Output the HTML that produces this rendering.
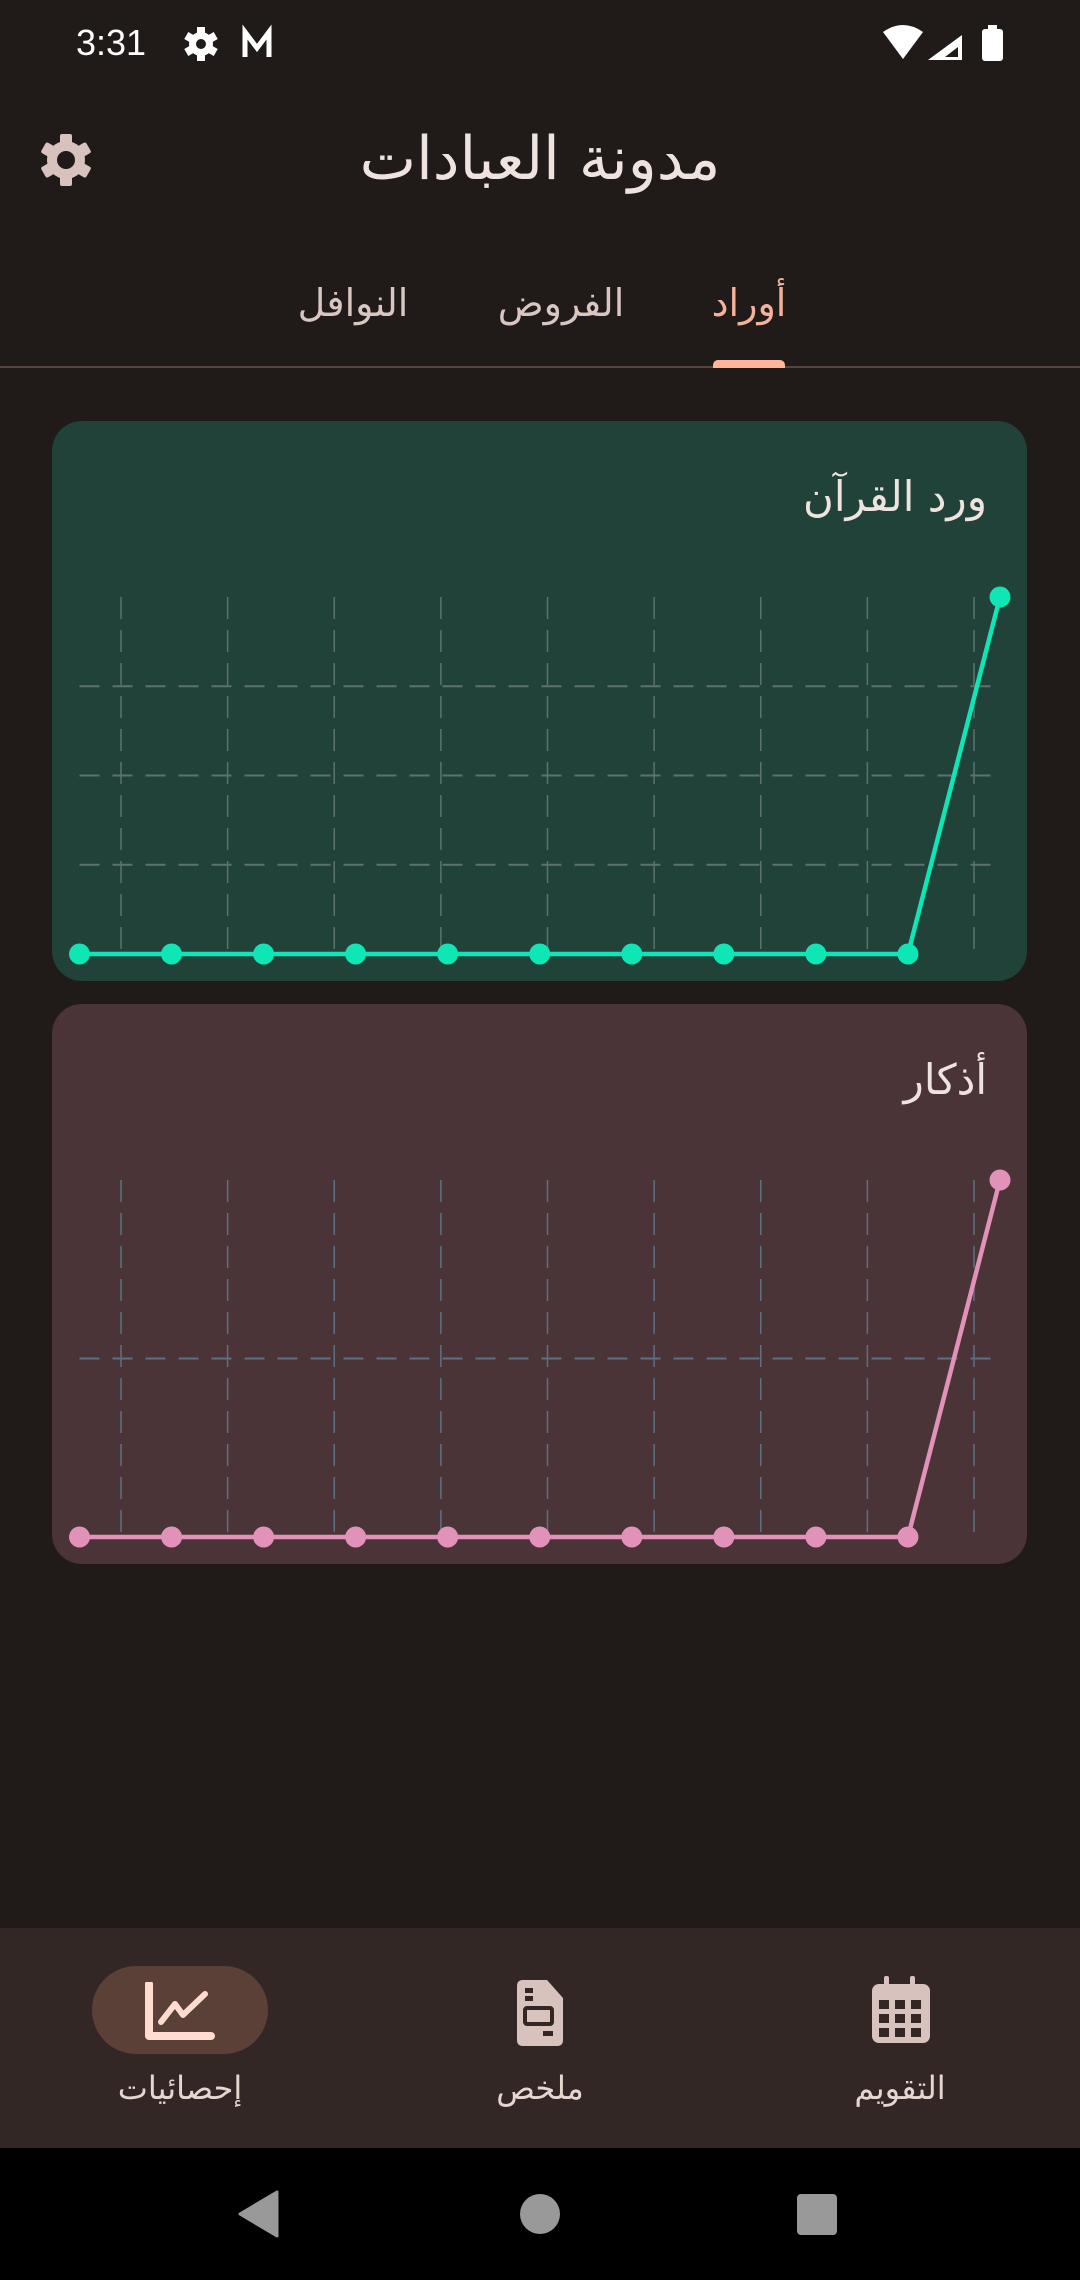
<!DOCTYPE html>
<html lang="ar">
<head>
<meta charset="utf-8">
<style>
  html,body{margin:0;padding:0;}
  body{width:1080px;height:2280px;background:#201b19;position:relative;overflow:hidden;font-family:"DejaVu Sans","Liberation Sans",sans-serif;}
  .abs{position:absolute;}
  .card{position:absolute;left:52px;width:975px;height:560px;border-radius:30px;}
  .ctitle{position:absolute;right:40px;top:51px;font-size:42px;color:#eee3df;direction:rtl;white-space:nowrap;}
  .tab{position:absolute;top:281px;font-size:38px;color:#d8c6c0;transform:translateX(-50%);white-space:nowrap;direction:rtl;}
  .navlbl{position:absolute;top:2069px;font-size:32px;color:#e6d6d0;transform:translateX(-50%);white-space:nowrap;direction:rtl;}
</style>
</head>
<body>

<div class="abs" style="left:76px;top:22px;font-size:36px;color:#fff;font-family:'Liberation Sans',sans-serif;">3:31</div>
<svg class="abs" style="left:180px;top:22px" width="110" height="44" viewBox="0 0 110 44">
  <g fill="#fff" transform="translate(21,22)">
    <circle r="12"/>
    <g><rect x="-4" y="-17" width="8" height="34"/><rect x="-4" y="-17" width="8" height="34" transform="rotate(60)"/><rect x="-4" y="-17" width="8" height="34" transform="rotate(120)"/></g>
    <circle r="5" fill="#201b19"/>
  </g>
  <path d="M65 35 V10 L77 26 L89 10 V35" fill="none" stroke="#fff" stroke-width="5"/>
</svg>
<svg class="abs" style="left:880px;top:22px" width="130" height="44" viewBox="0 0 130 44">
  <path d="M3 10 Q23 -4 43 10 L23 37 Z" fill="#fff"/>
  <path d="M48 38 L82 13 V38 Z" fill="#fff"/>
  <path d="M65 35 L78 25 V35 Z" fill="#201b19"/>
  <rect x="102" y="7" width="21" height="32" rx="3" fill="#fff"/>
  <rect x="108" y="3" width="9" height="5" fill="#fff"/>
</svg>

<svg class="abs" style="left:38px;top:132px" width="56" height="56" viewBox="-28 -28 56 56">
  <g fill="#d8c2bd">
    <circle r="19"/>
    <rect x="-6" y="-26" width="12" height="52" rx="2"/>
    <rect x="-6" y="-26" width="12" height="52" rx="2" transform="rotate(60)"/>
    <rect x="-6" y="-26" width="12" height="52" rx="2" transform="rotate(120)"/>
  </g>
  <circle r="9" fill="#201b19"/>
</svg>
<div class="abs" style="left:0;width:1080px;top:124px;text-align:center;font-size:60px;color:#eee3df;direction:rtl;">مدونة العبادات</div>

<div class="tab" style="left:353px;">النوافل</div>
<div class="tab" style="left:561px;">الفروض</div>
<div class="tab" style="left:749px;color:#f2b39a;">أوراد</div>
<div class="abs" style="left:0;top:366px;width:1080px;height:2px;background:#54463f;"></div>
<div class="abs" style="left:713px;top:360px;width:72px;height:8px;border-radius:5px 5px 0 0;background:#ffb59a;"></div>

<div class="card" style="top:421px;background:#214238;">
  <div class="ctitle">ورد القرآن</div>
  <svg id="chart1" width="975" height="560" style="position:absolute;left:0;top:0"></svg>
</div>

<div class="card" style="top:1004px;background:#4a3438;">
  <div class="ctitle">أذكار</div>
  <svg id="chart2" width="975" height="560" style="position:absolute;left:0;top:0"></svg>
</div>

<div class="abs" style="left:0;top:1928px;width:1080px;height:220px;background:#322724;"></div>
<div class="abs" style="left:92px;top:1966px;width:176px;height:88px;border-radius:44px;background:#5a4037;"></div>
<svg class="abs" style="left:145px;top:1982px" width="70" height="60" viewBox="0 0 70 60">
  <path d="M4 2 V54 H66" fill="none" stroke="#ffdbd0" stroke-width="8" stroke-linecap="round" stroke-linejoin="round"/>
  <path d="M16 40 L30 22 L38 33 L60 12" fill="none" stroke="#ffdbd0" stroke-width="6" stroke-linecap="round" stroke-linejoin="round"/>
</svg>
<svg class="abs" style="left:515px;top:1978px" width="50" height="70" viewBox="0 0 50 70">
  <path d="M6 2 H32 L48 20 V62 Q48 68 42 68 H8 Q2 68 2 62 V8 Q2 2 8 2 Z" fill="#d8c2bd"/>
  <rect x="10" y="10" width="8" height="5" fill="#322724"/>
  <rect x="10" y="18" width="8" height="5" fill="#322724"/>
  <rect x="10" y="30" width="27" height="16" rx="2" fill="none" stroke="#322724" stroke-width="4"/>
  <rect x="28" y="53" width="10" height="5" fill="#322724"/>
</svg>
<svg class="abs" style="left:870px;top:1975px" width="60" height="70" viewBox="0 0 60 70">
  <rect x="2" y="9" width="58" height="59" rx="7" fill="#d8c2bd"/>
  <rect x="14" y="1" width="5" height="12" rx="2" fill="#d8c2bd"/>
  <rect x="40" y="1" width="5" height="12" rx="2" fill="#d8c2bd"/>
  <g fill="#322724">
    <rect x="9" y="25" width="10" height="9"/><rect x="25" y="25" width="10" height="9"/><rect x="41" y="25" width="10" height="9"/>
    <rect x="9" y="39" width="10" height="9"/><rect x="25" y="39" width="10" height="9"/><rect x="41" y="39" width="10" height="9"/>
    <rect x="9" y="53" width="10" height="9"/><rect x="25" y="53" width="10" height="9"/><rect x="41" y="53" width="10" height="9"/>
  </g>
</svg>
<div class="navlbl" style="left:180px;">إحصائيات</div>
<div class="navlbl" style="left:540px;">ملخص</div>
<div class="navlbl" style="left:900px;">التقويم</div>

<div class="abs" style="left:0;top:2148px;width:1080px;height:132px;background:#000;"></div>
<svg class="abs" style="left:236px;top:2190px" width="44" height="48" viewBox="0 0 44 48"><path d="M41 2 V46 L4 24 Z" fill="#999" stroke="#999" stroke-width="3" stroke-linejoin="round"/></svg>
<div class="abs" style="left:520px;top:2194px;width:40px;height:40px;border-radius:50%;background:#999;"></div>
<div class="abs" style="left:797px;top:2194px;width:40px;height:41px;border-radius:4px;background:#999;"></div>

<script>
const days = ["1","2","3","4","5","6","7","8","9","10","11"];
const quranValues = [0,0,0,0,0,0,0,0,0,0,4];
const adhkarValues = [0,0,0,0,0,0,0,0,0,0,2];
const verticalGridCount = 9;

const NS = "http://www.w3.org/2000/svg";
function mk(tag, attrs){const e=document.createElementNS(NS,tag);for(const k in attrs)e.setAttribute(k,attrs[k]);return e;}

function drawChart(svgId, values, color, gridColor){
  const svg = document.getElementById(svgId);
  const x0 = 27.5, x1 = 948, yBase = 533, yTop = 176;
  const maxV = Math.max(1, ...values);
  const xScale = i => x0 + (x1 - x0) * i / (days.length - 1);
  const yScale = v => yBase - (yBase - yTop) * v / maxV;
  const gx0 = 69, gx1 = 922;
  for(let i=0;i<verticalGridCount;i++){
    const gx = gx0 + (gx1-gx0)*i/(verticalGridCount-1);
    const l = mk("line",{x1:gx,x2:gx,y1:yTop,y2:yBase-5,stroke:gridColor,"stroke-width":1.5,"stroke-dasharray":"22 11"});
    
    
    svg.appendChild(l);
  }
  for(let v=1; v<maxV; v++){
    const gy = yScale(v);
    const l = mk("line",{x1:x0,x2:940,y1:gy,y2:gy,stroke:gridColor,"stroke-width":2,"stroke-dasharray":"20 13"});
    
    
    svg.appendChild(l);
  }
  const pts = values.map((v,i)=>xScale(i)+","+yScale(v)).join(" ");
  const pl = mk("polyline",{points:pts,fill:"none",stroke:color,"stroke-width":4.5,"stroke-linejoin":"round"});
  
  
  svg.appendChild(pl);
  values.forEach((v,i)=>{
    const c = mk("circle",{cx:xScale(i),cy:yScale(v),r:10.5,fill:color});
    
    
    svg.appendChild(c);
  });
}
drawChart("chart1", quranValues, "#0fe6b6", "#5b7270");
drawChart("chart2", adhkarValues, "#e292b9", "#5e7080");
</script>
</body>
</html>
